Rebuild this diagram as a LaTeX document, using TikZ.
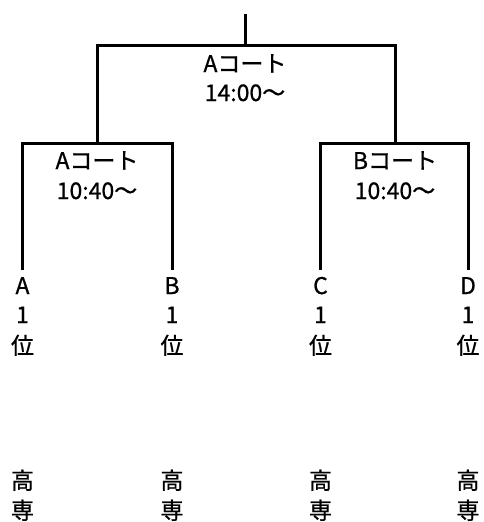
\documentclass[tikz,border=0pt]{standalone}
\usepackage{fontspec}
\setmainfont{Noto Sans CJK JP}[FakeBold=0.8]
\begin{document}
\begin{tikzpicture}[x=1pt,y=-1pt,
  bracket/.style={line width=3pt,line join=miter},
  lbl/.style={anchor=base,inner sep=0pt,font=\fontsize{23}{29}\selectfont}]
\useasboundingbox (0,0) rectangle (483,522);
% junction coordinates
\coordinate (top) at (245,14);
\coordinate (fm) at (245,45.5);
\coordinate (fl) at (97,45.5);
\coordinate (fr) at (395,45.5);
\coordinate (sl) at (97,143);
\coordinate (sr) at (395,143);
\coordinate (sll) at (22.5,143);
\coordinate (slr) at (172,143);
\coordinate (srl) at (320.5,143);
\coordinate (srr) at (468,143);
\coordinate (ea) at (22.5,270);
\coordinate (eb) at (172,270);
\coordinate (ec) at (320.5,270);
\coordinate (ed) at (468,270);
% brackets
\draw[bracket] (top) -- (fm);
\draw[bracket] (sl) -- (fl) -- (fr) -- (sr);
\draw[bracket] (ea) -- (sll) -- (slr) -- (eb);
\draw[bracket] (ec) -- (srl) -- (srr) -- (ed);
% match labels
\node[lbl] (f1) at (245,72) {Aコート};
\node[lbl] (f2) at (245,101) {14:00～};
\node[lbl] (l1) at (97,169) {Aコート};
\node[lbl] (l2) at (97,199) {10:40～};
\node[lbl] (r1) at (395,169) {Bコート};
\node[lbl] (r2) at (395,199) {10:40～};
% teams
\foreach \x/\t/\n in {22.5/A/a,172/B/b,320.5/C/c,468/D/d}{
  \node[lbl] (t\n1) at (\x,294) {\t};
  \node[lbl] (t\n2) at (\x,323) {1};
  \node[lbl] (t\n3) at (\x,354) {位};
  \node[lbl] (t\n4) at (\x,489) {高};
  \node[lbl] (t\n5) at (\x,519) {専};
}
\end{tikzpicture}
\end{document}
